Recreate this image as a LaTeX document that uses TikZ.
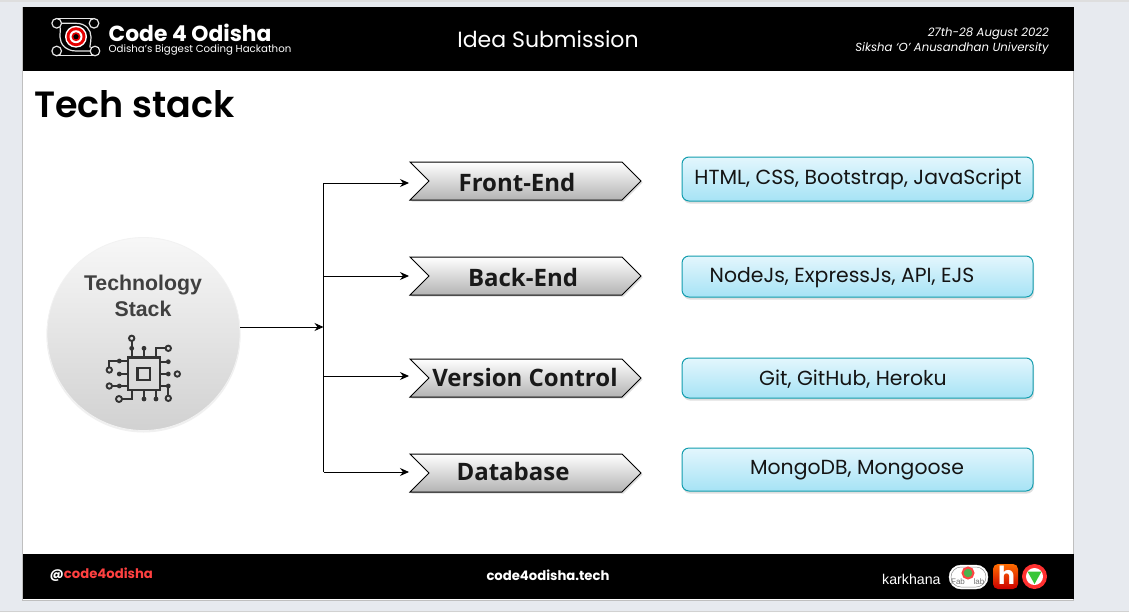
\documentclass[tikz,border=0pt]{standalone}
\usepackage{fontspec}
\setmainfont{Poppins}[BoldFont={Poppins SemiBold}]
\newfontfamily\popb{Poppins}
\newfontfamily\openf{Open Sans}
\newfontfamily\arialf{Liberation Sans}
\usetikzlibrary{shapes.symbols,shadows,arrows.meta,calc}
\definecolor{pagebg}{HTML}{E7EAEF}
\definecolor{tealb}{HTML}{129DAE}
\definecolor{chipc}{HTML}{333333}
\definecolor{boxtop}{HTML}{E3F6FD}
\definecolor{boxbot}{HTML}{A6E3F5}
\tikzset{
  x=1pt,y=-1pt,
  chev/.style={signal,signal to=east,signal from=west,signal pointer angle=90,draw=black,line width=1pt,
    minimum width=231pt,minimum height=38pt,inner sep=0pt,outer sep=0pt,
    top color=white,bottom color=black!30,
    drop shadow={opacity=.25,shadow xshift=1.5pt,shadow yshift=-1.5pt}},
  chevtext/.style={font=\openf\bfseries\fontsize{24}{28}\selectfont,text=black!90,inner sep=0pt},
  infobox/.style={draw=tealb,line width=1pt,rounded corners=7pt,minimum width=351pt,inner sep=0pt,outer sep=0pt,
    top color=boxtop,bottom color=boxbot,
    drop shadow={opacity=.25,shadow xshift=1pt,shadow yshift=-2.5pt}},
  infotext/.style={font=\fontsize{20.4}{24}\selectfont,text=black!92,inner sep=0pt},
  link/.style={draw=black,line width=.9pt},
  arrowlink/.style={link,-{Stealth[length=9pt,width=8pt]}},
  chipline/.style={draw=chipc,line width=2pt},
  chipdot/.style={fill=chipc,draw=none},
  chipring/.style={draw=chipc,line width=1.9pt,fill=none},
  logoline/.style={draw=white!90!black,line width=1.2pt}
}
\begin{document}
\begin{tikzpicture}
\useasboundingbox (0,0) rectangle (1129,613);
\fill[pagebg] (0,0) rectangle (1129,613);
\fill[black!13] (0,0) rectangle (1129,2);
\fill[white!94!pagebg] (0,612) rectangle (1129,613);
\draw[black!18,line width=.6pt] (0,611) -- (1129,611);
\fill[white] (22.5,7) rectangle (1073.5,600);
\draw[black!25,line width=.6pt] (22.5,7) rectangle (1073.5,600);
\fill[black] (22.5,7) rectangle (1073.5,71);
\fill[black] (22.5,554) rectangle (1073.5,599);

% header logo
\foreach \p in {(56.7,23.3),(94,23.3),(56.7,51),(95,51)} \draw[logoline] \p circle (4.8);
\draw[logoline] (56.7,18.5) -- (94,18.5);
\draw[logoline] (56.7,55.8) -- (95,55.8);
\draw[logoline] (61.5,23.3) -- (76,23.3) .. controls (86,23.3) and (91,30) .. (91,37) .. controls (91,44) and (89,47) .. (90.5,47.5);
\draw[logoline] (90.2,51) -- (76,51) .. controls (66,51) and (60,44) .. (60,37) .. controls (60,30) and (61,28) .. (60,27.2);
\fill[white] (76,36.7) circle (11);
\fill[red!90!black] (76,36.7) circle (9.5);
\fill[white] (76,36.7) circle (6.5);
\fill[red!90!black] (76,36.7) circle (4.5);
\fill[black] (76,36.7) circle (2.6);
\node[anchor=base west,inner sep=0pt,text depth=0pt,text=white,font=\popb\bfseries\fontsize{21.8}{24}\selectfont] (brand) at (108.5,41) {Code 4 Odisha};
\node[anchor=base west,inner sep=0pt,text height=7.5pt,text=white,font=\fontsize{10.2}{12}\selectfont] (tagline) at (108.5,52.3) {Odisha’s Biggest Coding Hackathon};
\node[inner sep=0pt,text=white,font=\fontsize{22}{26}\selectfont] (idea) at (548,39) {Idea Submission};
\node[anchor=east,inner sep=0pt,text=white,font=\itshape\fontsize{11.7}{14}\selectfont] (date) at (1049,33.5) {27th-28 August 2022};
\node[anchor=east,inner sep=0pt,text=white,font=\itshape\fontsize{11.7}{14}\selectfont] (univ) at (1049,48.5) {Siksha ‘O’ Anusandhan University};

\node[anchor=west,inner sep=0pt,font=\bfseries\fontsize{36.5}{40}\selectfont] (title) at (34,104) {Tech stack};

% circle
\fill[black!6] (143.5,335.5) circle (97);
\node[circle,minimum size=193pt,inner sep=0pt,outer sep=0pt,top color=black!3,bottom color=black!18,draw=black!5,line width=.8pt] (tech) at (143.5,334) {};
\node[font=\arialf\bfseries\fontsize{21.3}{26}\selectfont,text=black!75,align=center,inner sep=0pt] (techlabel) at (143,296) {Technology\\Stack};

% chip
\draw[chipline,line width=2.4pt] (128,357.5) rectangle (160,390);
\draw[chipline,line width=2.4pt] (137.5,368) rectangle (150,380);
\draw[chipline] (131.7,357) -- (131.7,341);
\draw[chipring] (131.7,338.3) circle (2.7);
\fill[chipdot] (131.7,348.3) circle (2.4);
\draw[chipline] (144,357) -- (144,348.3); \fill[chipdot] (144,348.3) circle (2.4);
\draw[chipline] (156,357) -- (156,348.3) -- (165.5,348.3);
\draw[chipring] (168.3,348.3) circle (2.7);
\draw[chipline] (160,361.7) -- (168.3,361.7); \fill[chipdot] (168.3,361.7) circle (2.4);
\draw[chipline] (160,374) -- (168.3,374); \fill[chipdot] (168.3,374) circle (2.4);
\draw[chipring] (177.3,374) circle (2.7);
\draw[chipline] (160,386) -- (168.3,386) -- (168.3,395.5); \fill[chipdot] (168.3,386) circle (2.4);
\draw[chipring] (168.3,398.3) circle (2.7);
\draw[chipline] (131.7,390) -- (131.7,399) -- (122,399);
\draw[chipring] (119,399) circle (3);
\draw[chipline] (144,390) -- (144,399); \fill[chipdot] (144,399) circle (2.4);
\draw[chipline] (156,390) -- (156,399); \fill[chipdot] (156,399) circle (2.4);
\draw[chipline] (127.7,361) -- (109.3,361) -- (109.3,367.5); \fill[chipdot] (119.3,361) circle (2.4);
\draw[chipring] (109.3,370) circle (2.7);
\draw[chipline] (127.7,374) -- (119.3,374); \fill[chipdot] (119.3,374) circle (2.4);
\draw[chipline] (127.7,386) -- (112,386); \fill[chipdot] (119.3,386) circle (2.4);
\draw[chipring] (109.3,386) circle (2.7);

% chevrons
\node[chev] (fe) at (525.5,181) {};
\node[chev] (be) at (525.5,276) {};
\node[chev] (vc) at (525.5,378) {};
\node[chev] (db) at (525.5,473) {};
\node[chevtext] (fet) at (517,182.5) {Front-End};
\node[chevtext] (bet) at (523,277) {Back-End};
\node[chevtext] (vct) at (525,377) {Version Control};
\node[chevtext] (dbt) at (513,471) {Database};

% boxes
\node[infobox,minimum height=44pt] (b1) at (857.5,179) {};
\node[infobox,minimum height=41pt] (b2) at (857.5,276.5) {};
\node[infobox,minimum height=40pt] (b3) at (857.5,378) {};
\node[infobox,minimum height=43pt] (b4) at (857.5,469.5) {};
\node[infotext] (b1t) at (858,179) {HTML, CSS, Bootstrap, JavaScript};
\node[infotext] (b2t) at (842,277.5) {NodeJs, ExpressJs, API, EJS};
\node[infotext] (b3t) at (853,379) {Git, GitHub, Heroku};
\node[infotext] (b4t) at (857,470.5) {MongoDB, Mongoose};

% connectors
\coordinate (j1) at (323.5,183);
\coordinate (j2) at (323.5,276);
\coordinate (jm) at (323.5,327);
\coordinate (j3) at (323.5,376);
\coordinate (j4) at (323.5,472);
\draw[link] (j1) -- (j4);
\draw[arrowlink] (tech.east |- jm) -- (jm);
\draw[arrowlink,shorten >=20pt] (j1) -- (j1 -| fe.west);
\draw[arrowlink,shorten >=20pt] (j2) -- (j2 -| be.west);
\draw[arrowlink,shorten >=20pt] (j3) -- (j3 -| vc.west);
\draw[arrowlink,shorten >=20pt] (j4) -- (j4 -| db.west);

% footer
\node[anchor=west,inner sep=0pt,font=\popb\bfseries\fontsize{13.2}{16}\selectfont] (handle) at (49.5,575) {\textcolor{white}{@}\textcolor{red!75!white}{code4odisha}};
\node[inner sep=0pt,text=white,font=\popb\bfseries\fontsize{13.2}{16}\selectfont] (site) at (548,575) {code4odisha.tech};
\node[anchor=west,inner sep=0pt,text=white,font=\arialf\fontsize{14.2}{16}\selectfont] (kark) at (882,579) {karkhana};
\draw[white,fill=white,rounded corners=12pt] (949,565) rectangle (988,589);
\draw[black!45,line width=.5pt,rounded corners=10pt] (951,567) rectangle (986,587);
\draw[red!65!pink,line width=2pt,fill=green!40!gray] (968,573) circle (5.5);
\node[inner sep=0pt,text=black!55,font=\arialf\fontsize{8}{9}\selectfont] (fab) at (958,582) {Fab};
\node[inner sep=0pt,text=black!55,font=\arialf\fontsize{8}{9}\selectfont] (lab) at (979,582) {lab};
\path[rounded corners=5pt,top color=orange!85!red,bottom color=red!80!black] (993,564) rectangle (1018,589);
\node[inner sep=0pt,text=white,font=\popb\bfseries\fontsize{25}{26}\selectfont] (hicon) at (1006.5,575) {h};
\fill[red!75!pink] (1034.5,576.5) circle (12.5);
\fill[white] (1034.5,576.5) circle (8.5);
\fill[green!55!gray] (1027.5,571.5) -- (1041.5,571.5) -- (1034.5,584) -- cycle;
\end{tikzpicture}
\end{document}
